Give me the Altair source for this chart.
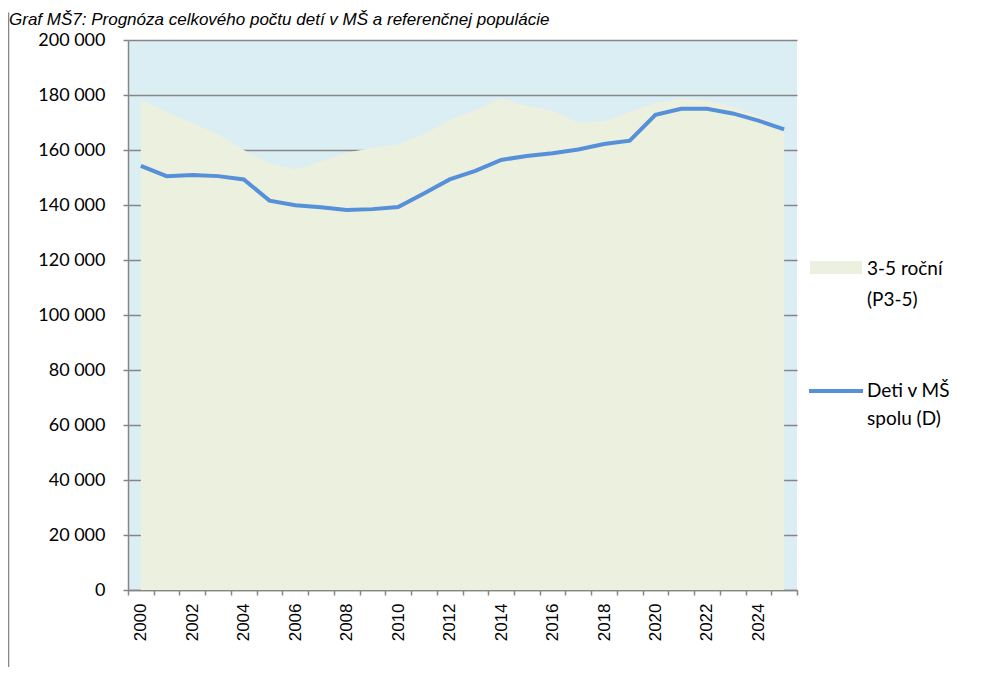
import altair as alt
import pandas as pd

years = list(range(2000, 2026))
p35 = [178200, 173900, 169700, 165700, 160000, 155200, 153000, 155800, 159000, 160800,
       162000, 165700, 170900, 174500, 178800, 176000, 174300, 169900, 170400, 173800,
       177000, 178700, 178000, 175800, 172400, 167900]
deti = [154200, 150500, 150900, 150500, 149300, 141600, 139900, 139200, 138200, 138500,
        139300, 144200, 149300, 152400, 156400, 157800, 158800, 160200, 162200, 163400,
        172800, 175000, 175000, 173300, 170700, 167500]
title_text = "Graf MŠ7: Prognóza celkového počtu detí v MŠ a referenčnej populácie"
legend_area = ["3-5 roční", "(P3-5)"]
legend_line = ["Deti v MŠ", "spolu (D)"]

df = pd.DataFrame({"year": years, "p35": p35, "deti": deti})
one = pd.DataFrame({"k": [0]})

W, H = 669, 550
GRAY = "#868686"
LBL_FONT = "Lato"
x_enc = alt.X("year:O",
              scale=alt.Scale(paddingInner=0, paddingOuter=0),
              axis=alt.Axis(title=None, labelAngle=-90, tickBand="extent",
                            labelExpr="datum.value % 2 == 0 ? datum.label : ''",
                            labelFont="Liberation Sans", labelFontSize=17, labelColor="#000",
                            labelPadding=8, tickSize=5, tickColor=GRAY, domainColor=GRAY,
                            domainWidth=1.5, tickWidth=1.5, labelOverlap=False, grid=False))
y_scale = alt.Scale(domain=[0, 200000], nice=False)
y_axis = alt.Axis(title=None, values=list(range(0, 200001, 20000)),
                  labelExpr="replace(format(datum.value, ','), ',', ' ')",
                  labelFont=LBL_FONT, labelFontSize=18, labelColor="#000",
                  labelPadding=18, tickSize=5, tickColor=GRAY, tickWidth=1.5,
                  domainColor=GRAY, domainWidth=1.5,
                  grid=True, gridColor=GRAY, gridWidth=1.5)

base = alt.Chart(df)
area = base.mark_area(color="#EBF0DF", opacity=1).encode(
    x=x_enc, y=alt.Y("p35:Q", scale=y_scale, axis=y_axis))
line = base.mark_line(color="#5690D8", strokeWidth=4).encode(
    x=x_enc, y=alt.Y("deti:Q", scale=y_scale, axis=y_axis))

layers = [area, line]

# frame line (left edge of the chart box)
layers.append(alt.Chart(one).mark_rule(color=GRAY, strokeWidth=1.5).encode(
    x=alt.value(-119.5), y=alt.value(-27.5), y2=alt.value(700)))

# title
layers.append(alt.Chart(one).mark_text(align="left", baseline="alphabetic", font="Liberation Sans",
                                       fontStyle="italic", fontSize=17, color="#000").encode(
    x=alt.value(-119), y=alt.value(-15), text=alt.value(title_text)))

# legend
layers.append(alt.Chart(one).mark_rect(color="#EBF0DF").encode(
    x=alt.value(682), x2=alt.value(734), y=alt.value(221), y2=alt.value(234)))
layers.append(alt.Chart(one).mark_rule(color="#5690D8", strokeWidth=4).encode(
    x=alt.value(681), x2=alt.value(735), y=alt.value(351)))
for txt, yy in [(legend_area[0], 235), (legend_area[1], 266), (legend_line[0], 357), (legend_line[1], 385)]:
    layers.append(alt.Chart(one).mark_text(align="left", baseline="alphabetic", font=LBL_FONT,
                                           fontSize=19, color="#000").encode(
        x=alt.value(739), y=alt.value(yy), text=alt.value(txt)))

chart = alt.layer(*layers).properties(
    width=W, height=H,
    autosize=alt.AutoSizeParams(type="none"),
    padding={"left": 120, "top": 32, "right": 191, "bottom": 77},
    background="white",
).configure_view(fill="#DBEEF4", stroke=None)

chart.save("out.html", embed_options={"renderer": "svg", "actions": False})
